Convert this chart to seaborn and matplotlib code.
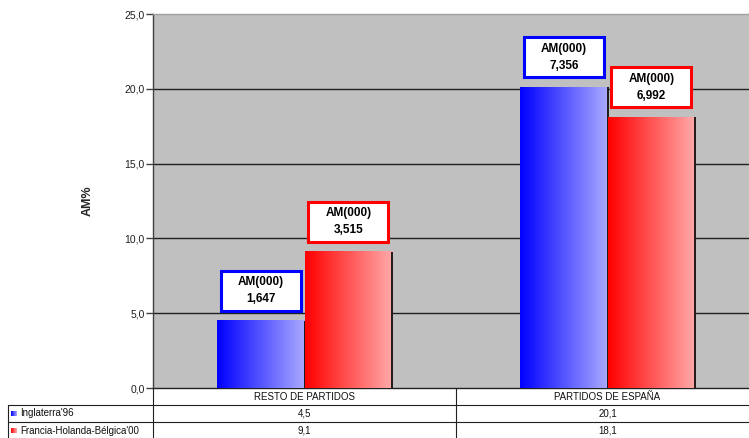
import numpy as np
import pandas as pd
import matplotlib
matplotlib.use("Agg")
import matplotlib.pyplot as plt
from matplotlib.lines import Line2D
from matplotlib.patches import Rectangle
import seaborn as sns

# Chart data
categories = ["RESTO DE PARTIDOS", "PARTIDOS DE ESPAÑA"]
series = ["Inglaterra'96", "Francia-Holanda-Bélgica'00"]
am_pct_inglaterra = [4.5, 20.1]
am_pct_francia = [9.1, 18.1]
am_miles_inglaterra = ["1,647", "7,356"]
am_miles_francia = ["3,515", "6,992"]
y_ticks = [0, 5, 10, 15, 20, 25]

df = pd.DataFrame({
    "categoria": categories * 2,
    "serie": [series[0]] * 2 + [series[1]] * 2,
    "am": am_pct_inglaterra + am_pct_francia,
})

sns.set_theme(style="white")
plt.rcParams["font.family"] = ["Liberation Sans", "DejaVu Sans"]

W, H = 749, 438
fig = plt.figure(figsize=(W / 100, H / 100), dpi=100)
fig.patch.set_facecolor("white")

# plot area in pixel terms (left, top, width, height)
L, T, PW, PH = 153, 14, 606, 374
ax = fig.add_axes([L / W, (H - T - PH) / H, PW / W, PH / H])
ax.set_facecolor("#c0c0c0")

palette = {series[0]: "#0000ff", series[1]: "#ff0000"}
sns.barplot(data=df, x="categoria", y="am", hue="serie", order=categories,
            hue_order=series, palette=palette, width=0.578, dodge=True,
            legend=False, ax=ax, zorder=3)

ax.set_xlim(-0.5, 1.5)
ax.set_ylim(0, 25)
# data units per pixel inside the plot area
ux = 2.0 / PW
uy = 25.0 / PH

dark = {0: np.array([0, 0, 255]) / 255, 1: np.array([255, 0, 0]) / 255}
light = {0: np.array([170, 170, 255]) / 255, 1: np.array([255, 170, 170]) / 255}


def gradient(k, n=128):
    t = np.linspace(0, 1, n)[:, None]
    return (dark[k] * (1 - t) + light[k] * t)[None, :, :]


labels_by_series = [am_miles_inglaterra, am_miles_francia]
edge_cols = ["#0000ff", "#ff0000"]
patches = list(ax.patches)
for i, p in enumerate(patches):
    k = i // len(categories)
    j = i % len(categories)
    x0, y0 = p.get_x(), p.get_y()
    w, h = p.get_width(), p.get_height()
    p.set_facecolor("none")
    p.set_edgecolor("none")
    z = 3 + 0.2 * k
    ax.imshow(gradient(k), extent=[x0, x0 + w, y0, y0 + h], aspect="auto",
              interpolation="bilinear", zorder=z)
    # dark right edge of each bar
    ax.plot([x0 + w, x0 + w], [y0, y0 + h], color="#000000", lw=1.2,
            zorder=z + 0.1, solid_capstyle="butt")
    # value box above the bar
    cx = x0 + w / 2
    bw, bh, gap = 80 * ux, 40 * uy, 10 * uy
    ax.add_patch(Rectangle((cx - bw / 2, y0 + h + gap), bw, bh, fc="white",
                           ec=edge_cols[k], lw=2.2, zorder=5, clip_on=False))
    ax.text(cx, y0 + h + gap + bh / 2, f"AM(000)\n{labels_by_series[k][j]}",
            ha="center", va="center", fontsize=8.5, fontweight="bold",
            linespacing=1.55, zorder=6, color="#000000")

ax.set_xlim(-0.5, 1.5)
ax.set_ylim(0, 25)
ax.set_yticks(y_ticks)
ax.set_yticklabels([f"{v:.1f}".replace(".", ",") for v in y_ticks],
                   fontsize=7.5, color="#202020")
ax.tick_params(axis="y", direction="out", length=5, width=1, color="#404040",
               pad=1, left=True)
ax.tick_params(axis="x", bottom=False, labelbottom=False)
ax.set_xlabel("")
ax.set_ylabel("AM%", fontsize=9, fontweight="bold", labelpad=22)
for v in y_ticks[1:-1]:
    ax.axhline(v, color="#202020", lw=1, zorder=1)
for s in ["top", "right"]:
    ax.spines[s].set_color("#a0a0a0")
ax.spines["left"].set_color("#404040")
ax.spines["bottom"].set_color("#202020")
for s in ax.spines.values():
    s.set_linewidth(1)


# data table under the plot
def fx(px):
    return px / W


def fy(py):
    return 1 - py / H


row_h = 17
top = T + PH
line_kw = dict(color="#202020", lw=0.8, transform=fig.transFigure)
col_x = [L, L + PW / 2, L + PW]
for r in range(1, 3):
    y = top + row_h * r
    fig.add_artist(Line2D([fx(8), fx(L + PW)], [fy(y), fy(y)], **line_kw))
for x in col_x[:2]:
    fig.add_artist(Line2D([fx(x), fx(x)], [fy(top), fy(H + 2)], **line_kw))
fig.add_artist(Line2D([fx(8), fx(8)], [fy(top + row_h), fy(H + 2)], **line_kw))

for c, name in enumerate(categories):
    cx = (col_x[c] + col_x[c + 1]) / 2
    fig.text(fx(cx), fy(top + row_h / 2), name, ha="center", va="center",
             fontsize=7, color="#101010")

rows = [am_pct_inglaterra, am_pct_francia]
for r, (name, vals) in enumerate(zip(series, rows)):
    cy = top + row_h * (r + 1.5)
    key_ax = fig.add_axes([fx(11), fy(cy + 3), 6 / W, 6 / H])
    key_ax.imshow(gradient(r), aspect="auto", interpolation="bilinear")
    key_ax.set_axis_off()
    fig.text(fx(20), fy(cy), name, ha="left", va="center", fontsize=7,
             color="#101010")
    for c, v in enumerate(vals):
        cx = (col_x[c] + col_x[c + 1]) / 2
        fig.text(fx(cx), fy(cy), f"{v:.1f}".replace(".", ","), ha="center",
                 va="center", fontsize=7, color="#101010")

fig.savefig("out.png", dpi=100)
